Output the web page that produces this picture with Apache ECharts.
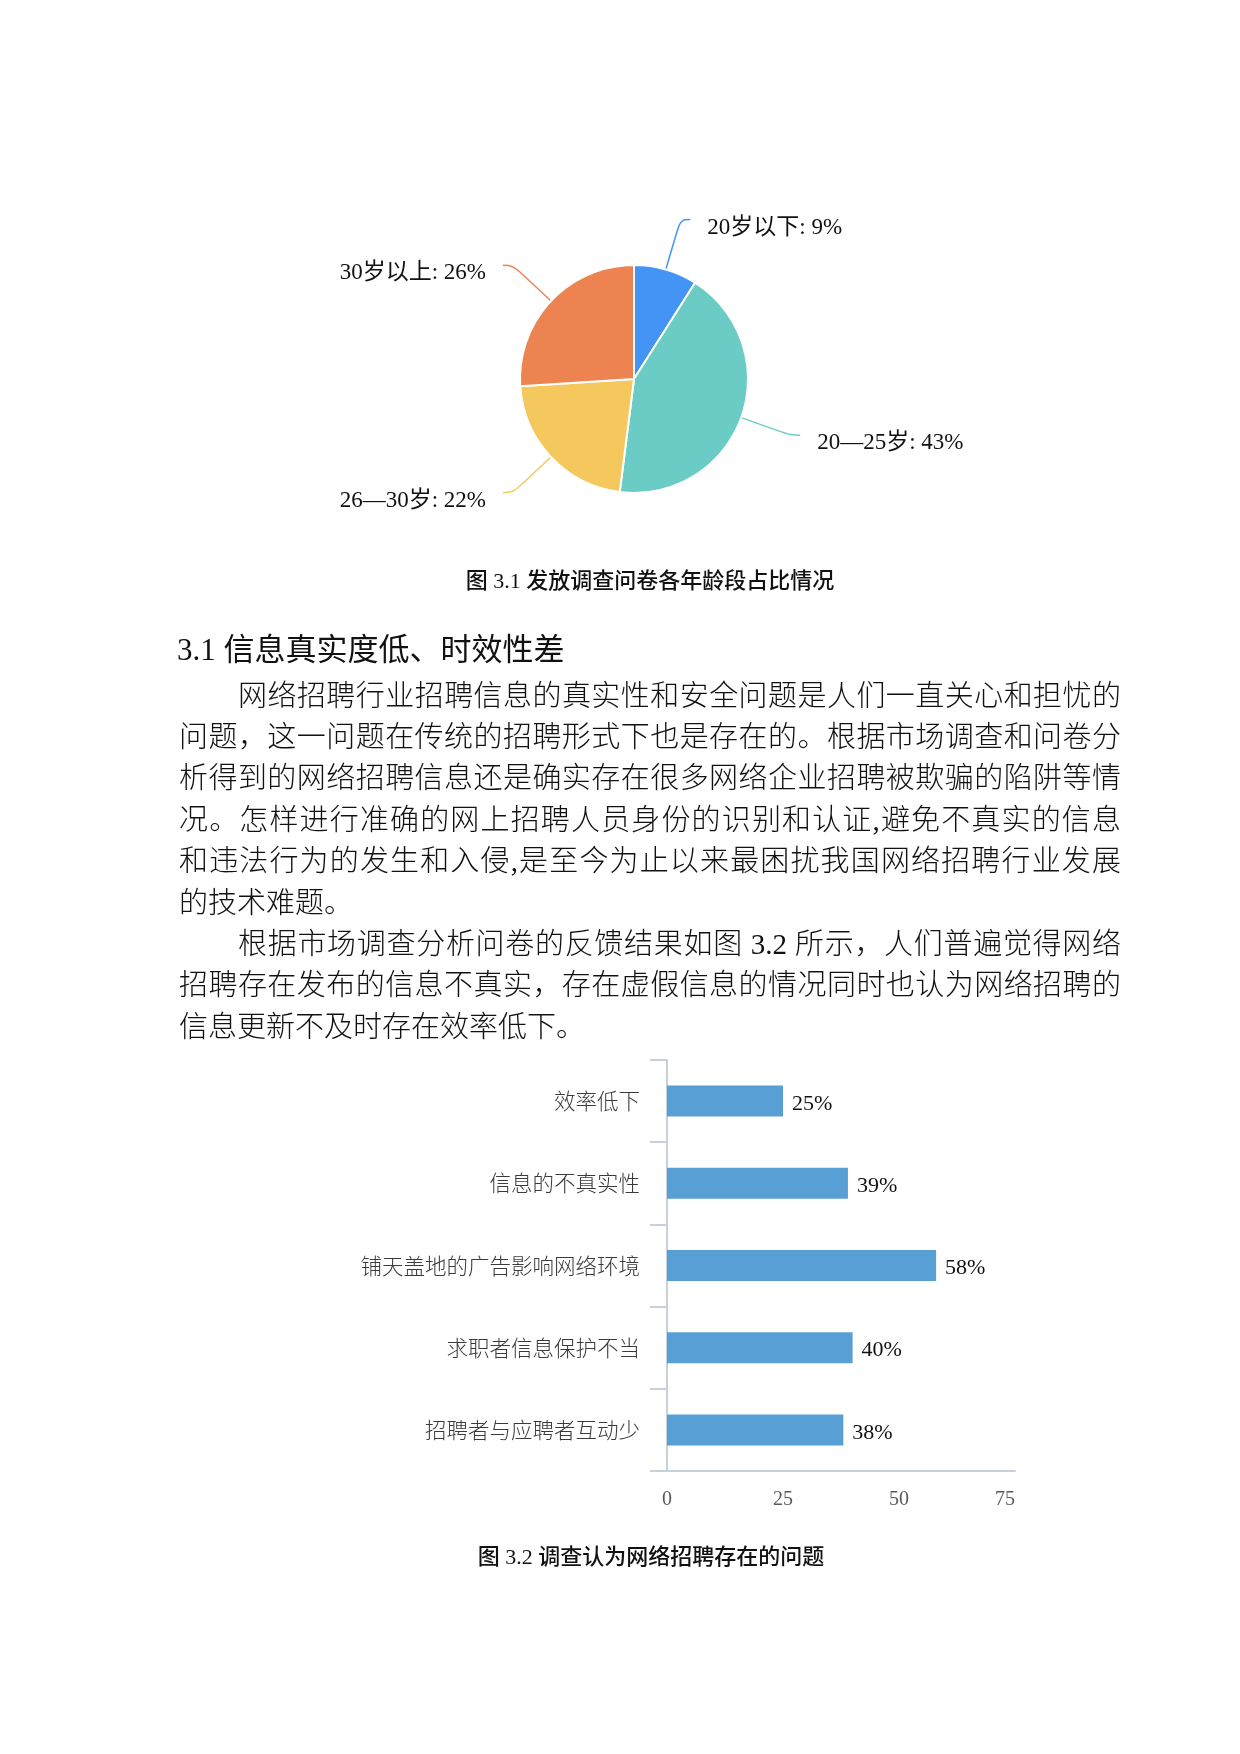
<!DOCTYPE html>
<html>
<head>
<meta charset="utf-8">
<script src="https://cdn.jsdelivr.net/npm/echarts@6/dist/echarts.min.js"></script>
<style>
  html, body { margin: 0; padding: 0; background: #fff; }
  #page { position: relative; width: 1240px; height: 1754px; overflow: hidden; background: #fff; }
  #chart { position: absolute; left: 0; top: 0; width: 1240px; height: 1754px; }
  .txt { position: absolute; white-space: nowrap; color: #111;
         font-family: 'Liberation Serif', 'Noto Sans CJK SC', serif; }
  .line { position: absolute; left: 179px; width: 942px; height: 41.4px; line-height: 41.4px;
          font-size: 29px; font-weight: 300; color: #111; white-space: nowrap;
          font-family: 'Liberation Serif', 'Noto Sans CJK SC', serif;
          text-align: justify; text-align-last: justify; text-justify: inter-character; }
  .indent { left: 238px; width: 883px; }
  .last { text-align: left; text-align-last: left; }
  .cap { position: absolute; width: 600px; text-align: center; font-size: 22px; line-height: 30px;
         color: #111; white-space: nowrap; font-family: 'Liberation Serif', 'Noto Sans CJK SC', sans-serif; }
</style>
</head>
<body>
<div id="page">
  <div id="chart"></div>
  <div class="cap" style="left:350px; top:566px; font-weight:500;">图 3.1 发放调查问卷各年龄段占比情况</div>
  <div class="txt" style="left:177px; top:629px; font-size:31px; line-height:42px;">3.1 信息真实度低、时效性差</div>
  <div id="body"></div>
  <div class="cap" style="left:351px; top:1542px; font-weight:500;">图 3.2 调查认为网络招聘存在的问题</div>
</div>
<script>
// ---- data ----
const pieNames = ['20岁以下', '20—25岁', '26—30岁', '30岁以上'];
const pieValues = [9, 43, 22, 26];
const barCategories = ['效率低下', '信息的不真实性', '铺天盖地的广告影响网络环境', '求职者信息保护不当', '招聘者与应聘者互动少'];
const barValues = [25, 39, 58, 40, 38];
const xAxisMin = 0, xAxisMax = 75, xAxisStep = 25;
const bodyLines = [
  '网络招聘行业招聘信息的真实性和安全问题是人们一直关心和担忧的',
  '问题，这一问题在传统的招聘形式下也是存在的。根据市场调查和问卷分',
  '析得到的网络招聘信息还是确实存在很多网络企业招聘被欺骗的陷阱等情',
  '况。怎样进行准确的网上招聘人员身份的识别和认证,避免不真实的信息',
  '和违法行为的发生和入侵,是至今为止以来最困扰我国网络招聘行业发展',
  '的技术难题。',
  '根据市场调查分析问卷的反馈结果如图 3.2 所示，人们普遍觉得网络',
  '招聘存在发布的信息不真实，存在虚假信息的情况同时也认为网络招聘的',
  '信息更新不及时存在效率低下。'
];
const indentLines = [0, 6];
const lastLines = [5, 8];

// ---- styles ----
const pieColors = ['#4394F5', '#6BCCC6', '#F4C85C', '#EE8352'];
const barColor = '#589FD6';
const axisColor = '#C7D1DE';

// body text
const bodyEl = document.getElementById('body');
bodyLines.forEach((t, i) => {
  const d = document.createElement('div');
  d.className = 'line' + (indentLines.includes(i) ? ' indent' : '') + (lastLines.includes(i) ? ' last' : '');
  d.style.top = (675.5 + i * 41.4) + 'px';
  d.textContent = t;
  bodyEl.appendChild(d);
});

const chart = echarts.init(document.getElementById('chart'), null, { renderer: 'canvas' });
chart.setOption({
  backgroundColor: '#fff',
  animation: false,
  grid: { left: 667, top: 1060, width: 348, height: 411, containLabel: false },
  xAxis: {
    type: 'value', min: xAxisMin, max: xAxisMax, interval: xAxisStep,
    axisLine: { show: true, lineStyle: { color: axisColor, width: 2 } },
    axisTick: { show: false },
    splitLine: { show: false },
    axisLabel: { color: '#595959', fontSize: 20, fontFamily: 'Liberation Serif', margin: 19, alignMaxLabel: 'right' }
  },
  yAxis: {
    type: 'category', data: barCategories, inverse: true,
    axisLine: { show: true, lineStyle: { color: axisColor, width: 2 } },
    axisTick: { show: true, length: 17, lineStyle: { color: axisColor, width: 2 } },
    axisLabel: { color: '#3A3A3A', fontSize: 21.5, fontWeight: 300, fontFamily: 'Noto Sans CJK SC', margin: 27 }
  },
  series: [
    {
      type: 'pie',
      center: [634, 379],
      radius: 114,
      startAngle: 90,
      clockwise: true,
      color: pieColors,
      itemStyle: { borderColor: '#fff', borderWidth: 2 },
      label: {
        show: true,
        formatter: '{b}: {c}%',
        fontFamily: "'Liberation Serif', 'Noto Sans CJK SC'",
        fontSize: 23,
        color: '#111',
        distanceToLabelLine: 17
      },
      labelLayout: { dy: 8 },
      labelLine: { show: true, length: 52, length2: 10, smooth: 0.4, lineStyle: { width: 1.5 } },
      data: pieNames.map((n, i) => ({ name: n, value: pieValues[i] }))
    },
    {
      type: 'bar',
      data: barValues,
      barWidth: 31,
      itemStyle: { color: barColor },
      label: {
        show: true, position: 'right', distance: 9, formatter: '{c}%',
        fontFamily: 'Liberation Serif', fontSize: 22, color: '#111'
      },
      labelLayout: { dy: 3 }
    }
  ]
});
</script>
</body>
</html>
